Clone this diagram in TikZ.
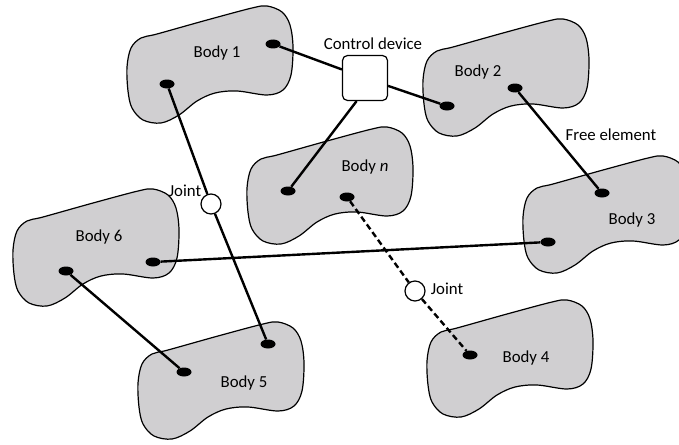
\documentclass[tikz,border=0pt]{standalone}
\usepackage{fontspec}
\setmainfont{Carlito}
\usetikzlibrary{shapes.geometric}
\definecolor{bodygray}{RGB}{208,207,209}

\tikzset{
  blob/.pic={
    \draw[fill=bodygray, line width=1.2pt] plot[smooth cycle, tension=0.55] coordinates {
      (0,60) (4,41) (14,31) (30,27) (80,13) (125,1) (140,-1) (155,5) (163,18)
      (166,40) (164,68) (156,83) (140,88) (110,84) (88,86) (70,94) (52,108)
      (34,116) (16,113) (5,101) (1,84)};
  }
}

\begin{document}
\begin{tikzpicture}[x=1pt, y=-1pt,
  every node/.style={font=\fontsize{16.8}{20}\selectfont},
  pin/.style={ellipse, fill=black, inner sep=0pt, minimum width=15pt, minimum height=9pt},
  joint/.style={circle, draw, fill=white, line width=1.2pt, inner sep=0pt, minimum size=20pt},
  link/.style={line width=2.4pt}]
\useasboundingbox (0,0) rectangle (679,444);

\pic at (127,7) {blob};
\pic at (423,20) {blob};
\pic at (247,128) {blob};
\pic at (523,157) {blob};
\pic at (427,301) {blob};
\pic at (138,323) {blob};
\pic at (13,190) {blob};

\node (t1) at (217,53) {Body 1};
\node (t2) at (478,72) {Body 2};
\node (tn) at (365,167) {Body \textit{n}};
\node (t3) at (632,220) {Body 3};
\node (t4) at (526,358) {Body 4};
\node (t5) at (244,383) {Body 5};
\node (t6) at (99,237) {Body 6};
\node (tfree) at (611,135) {Free element};
\node (tctrl) at (373,44) {Control device};
\node (tj1) at (185,191) {Joint};
\node (tj2) at (447,289) {Joint};

\node[pin] (p1a) at (273,44) {};
\node[pin] (p1b) at (167,84) {};
\node[pin] (p2a) at (447,106) {};
\node[pin] (p2b) at (515,88) {};
\node[pin] (pna) at (288,191) {};
\node[pin] (pnb) at (347,197) {};
\node[pin] (p3a) at (602,193) {};
\node[pin] (p3b) at (548,242) {};
\node[pin] (p4a) at (470,355) {};
\node[pin] (p5a) at (184,372) {};
\node[pin] (p5b) at (268,344) {};
\node[pin] (p6a) at (153,262) {};
\node[pin] (p6b) at (66,271) {};

\node[draw, fill=white, line width=1.2pt, rounded corners=5pt, minimum size=45pt] (ctrl) at (365,78) {};
\node[joint] (j1) at (211,204) {};
\node[joint] (j2) at (415,291) {};

\draw[link] (p1a) -- (ctrl);
\draw[link] (ctrl) -- (p2a);
\draw[link] (ctrl.-110) -- (pna);
\draw[link] (p2b) -- (p3a);
\draw[link] (p6a) -- (p3b);
\draw[link] (p6b) -- (p5a);
\draw[link] (p1b) -- (j1) -- (p5b);
\draw[link, dash pattern=on 6pt off 3.5pt] (pnb) -- (j2) -- (p4a);
\end{tikzpicture}
\end{document}
